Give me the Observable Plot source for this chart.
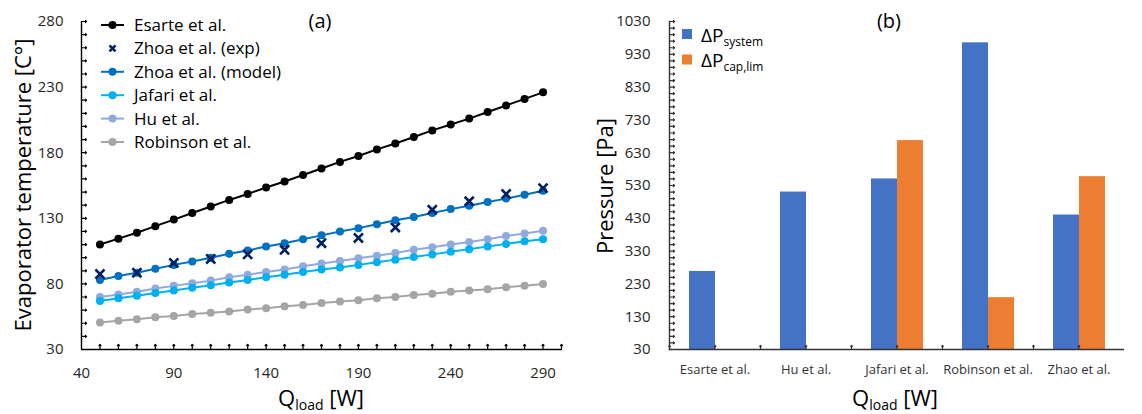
<!DOCTYPE html>
<html><head><meta charset="utf-8">
<script src="https://cdn.jsdelivr.net/npm/d3@7"></script>
<script src="https://cdn.jsdelivr.net/npm/@observablehq/plot@0.6"></script>
<style>
body{margin:0;background:#fff;font-family:"Open Sans",sans-serif;}
#root{position:relative;width:1142px;height:414px;overflow:hidden;background:#fff;}
#root > svg, #root > figure{position:absolute;top:0;margin:0;}
#overlay{position:absolute;left:0;top:0;pointer-events:none;}
</style></head><body><div id="root"></div><script>
// ---------- Panel (a) data ----------
const qLoad = [50,60,70,80,90,100,110,120,130,140,150,160,170,180,190,200,210,220,230,240,250,260,270,280,290];
const esarte   = [110,114.5,119,124,129,134,139,144,148.5,153.5,158,163,168,173,177.5,182.5,187,192,197,201.5,206,211,216,221,226];
const zhoaModel= [83,86,88.5,91.5,94.5,97,100,103,105.5,108.5,111,114,117,120,122.5,125.5,128.5,131,134,137,139.5,142.5,145,148,151];
const jafari   = [67,69,71,73,75,77,79,81,83,85,87,89,91,92.5,94.5,96.5,98.5,100.5,102.5,104.5,106.5,108.5,110.5,112.5,114];
const hu       = [70,72,74,76.5,78.5,80.5,82.5,85,87,89,91,93.5,95.5,97.5,99.5,101.5,103.5,106,108,110,112,114,116.5,118.5,120.5];
const robinson = [50.5,52,53,54.5,55.5,57,58,59,60.5,61.5,63,64,65.5,66.5,67.5,69,70,71.5,72.5,74,75,76,77.5,78.5,80];
const qExp     = [50,70,90,110,130,150,170,190,210,230,250,270,290];
const zhoaExp  = [87.5,88.5,96,99,102.5,106,111,115,123,136.5,143,148.5,153];
const xTickLabels = [40,90,140,190,240,290];
const xMinorTicks = [50,60,70,80,90,100,110,120,130,140,150,160,170,180,190,200,210,220,230,240,250,260,270,280,290,300];
const yTickLabels = [30,80,130,180,230,280];
const yMinorTicks = [40,50,60,70,80,90,100,110,120,130,140,150,160,170,180,190,200,210,220,230,240,250,260,270,280];

// ---------- Panel (b) data ----------
const studies  = ["Esarte et al.","Hu et al.","Jafari et al.","Robinson et al.","Zhao et al."];
const dpSystem = [268,510,550,965,440];
const dpCapLim = [null,null,667,188,557];
const pTickLabels = [30,130,230,330,430,530,630,730,830,930,1030];
const pMinorTicks = [50,70,90,110,130,150,170,190,210,230,250,270,290,310,330,350,370,390,410,430,450,470,490,510,530,550,570,590,610,630,650,670,690,710,730,750,770,790,810,830,850,870,890,910,930,950,970,990,1010,1030];

// ---------- styles ----------
const lineSeries = [
  {name:"Robinson et al.", values:robinson, color:"#A5A5A5"},
  {name:"Hu et al.", values:hu, color:"#8FAADC"},
  {name:"Jafari et al.", values:jafari, color:"#00B0F0"},
  {name:"Zhoa et al. (model)", values:zhoaModel, color:"#0070C0"},
  {name:"Esarte et al.", values:esarte, color:"#000000"}
];
const expColor = "#002060";
const barColors = ["#4472C4","#ED7D31"];
const FONT = "'Open Sans', sans-serif";

const root = document.getElementById("root");

// ---------- Panel (a) ----------
const marksA = [
  Plot.axisX({ticks:xTickLabels, tickSize:0, tickPadding:18, fontSize:15, fill:"#262626", tickFormat:d=>String(d)}),
  Plot.axisY({ticks:yTickLabels, tickSize:0, tickPadding:18, fontSize:15, fill:"#262626", tickFormat:d=>String(d)}),
  Plot.vector(xMinorTicks, {x:d=>d, frameAnchor:"bottom", length:5, rotate:0, anchor:"start", stroke:"#000", strokeWidth:1.2}),
  Plot.vector(yMinorTicks, {y:d=>d, frameAnchor:"left", length:5, rotate:90, anchor:"start", stroke:"#000", strokeWidth:1.2}),
  Plot.ruleX([40], {stroke:"#000", strokeWidth:1.4}),
  Plot.ruleY([30], {stroke:"#000", strokeWidth:1.4})
];
for (const s of lineSeries) {
  const rows = qLoad.map((q,i)=>({q, T:s.values[i]}));
  marksA.push(Plot.line(rows, {x:"q", y:"T", stroke:s.color, strokeWidth:2}));
  marksA.push(Plot.dot(rows, {x:"q", y:"T", fill:s.color, r:4}));
}
const expRows = qExp.map((q,i)=>({q, T:zhoaExp[i]}));
marksA.push(Plot.dot(expRows, {x:"q", y:"T", symbol:"times", stroke:expColor, strokeWidth:2.6, r:4.2}));

const plotA = Plot.plot({
  width:580, height:414,
  marginLeft:81, marginRight:19, marginTop:21, marginBottom:65,
  x:{domain:[40,300], label:null},
  y:{domain:[30,280], label:null},
  style:{fontFamily:FONT, fontSize:"15px", background:"transparent", overflow:"visible"},
  marks:marksA
});
plotA.style.left = "0px";
root.appendChild(plotA);

// ---------- Panel (b) ----------
const barRows = [];
studies.forEach((s,i)=>{
  barRows.push({study:s, kind:"system", v:dpSystem[i]});
  if (dpCapLim[i] != null) barRows.push({study:s, kind:"cap", v:dpCapLim[i]});
});
const plotB = Plot.plot({
  width:562, height:414,
  marginLeft:88, marginRight:17, marginTop:21, marginBottom:65,
  fx:{domain:studies, padding:0, label:null},
  x:{domain:["system","cap"], paddingInner:0, paddingOuter:0.71, axis:null, label:null},
  y:{domain:[30,1030], label:null},
  color:{domain:["system","cap"], range:barColors},
  style:{fontFamily:FONT, fontSize:"15px", background:"transparent", overflow:"visible"},
  marks:[
    Plot.barY(barRows, {fx:"study", x:"kind", y1:30, y2:"v", fill:"kind"}),
    Plot.axisFx({anchor:"bottom", tickSize:0, tickPadding:15, fontSize:13, fill:"#333", label:null}),
    Plot.axisY({ticks:pTickLabels, tickSize:0, tickPadding:19, fontSize:15, fill:"#262626", label:null, tickFormat:d=>String(d)}),
    Plot.vector(pMinorTicks, {y:d=>d, frameAnchor:"left", length:5, rotate:90, anchor:"start", stroke:"#333", strokeWidth:1.2, facetAnchor:"left"}),
    Plot.ruleY([30], {stroke:"#333", strokeWidth:1.4}),
    Plot.frame({anchor:"left", facetAnchor:"left", stroke:"#333", strokeWidth:1.4}),
    Plot.vector([0], {frameAnchor:"bottom-left", length:4, rotate:0, anchor:"start", stroke:"#333", strokeWidth:1.2}),
    Plot.vector([0], {frameAnchor:"bottom", length:4, rotate:0, anchor:"start", stroke:"#333", strokeWidth:1.2})
  ]
});
plotB.style.left = "580px";
root.appendChild(plotB);

// ---------- Overlay: titles & legends ----------
const ov = d3.select(root).append("svg").attr("id","overlay").attr("width",1142).attr("height",414)
  .style("font-family", FONT);

ov.append("text").attr("x",320).attr("y",28).attr("text-anchor","middle").attr("font-size",20).attr("fill","#000").text("(a)");
ov.append("text").attr("x",889).attr("y",28).attr("text-anchor","middle").attr("font-size",20).attr("fill","#000").text("(b)");

ov.append("text").attr("transform","translate(31,185) rotate(-90)").attr("text-anchor","middle")
  .attr("font-size",22).attr("fill","#000").text("Evaporator temperature [C°]");
ov.append("text").attr("transform","translate(613,186) rotate(-90)").attr("text-anchor","middle")
  .attr("font-size",22).attr("fill","#000").text("Pressure [Pa]");

for (const cx of [321, 895]) {
  const t = ov.append("text").attr("x",cx).attr("y",406).attr("text-anchor","middle").attr("fill","#000");
  t.append("tspan").text("Q").attr("font-size",22);
  t.append("tspan").text("load").attr("font-size",14).attr("dy",4);
  t.append("tspan").text(" [W]").attr("font-size",22).attr("dy",-4);
}

// legend (a)
const legendA = [
  {name:"Esarte et al.", color:"#000000", kind:"line"},
  {name:"Zhoa et al. (exp)", color:expColor, kind:"x"},
  {name:"Zhoa et al. (model)", color:"#0070C0", kind:"line"},
  {name:"Jafari et al.", color:"#00B0F0", kind:"line"},
  {name:"Hu et al.", color:"#8FAADC", kind:"line"},
  {name:"Robinson et al.", color:"#A5A5A5", kind:"line"}
];
legendA.forEach((d,i)=>{
  const y = 25 + i*23.4;
  if (d.kind === "line") {
    ov.append("line").attr("x1",101).attr("x2",124).attr("y1",y).attr("y2",y).attr("stroke",d.color).attr("stroke-width",2);
    ov.append("circle").attr("cx",112.5).attr("cy",y).attr("r",4).attr("fill",d.color);
  } else {
    ov.append("path").attr("d",`M${112.5-3},${y-3}L${112.5+3},${y+3}M${112.5-3},${y+3}L${112.5+3},${y-3}`)
      .attr("stroke",d.color).attr("stroke-width",2.6);
  }
  ov.append("text").attr("x",134).attr("y",y+6).attr("font-size",17).attr("fill","#000").text(d.name);
});

// legend (b)
const legendB = [{main:"ΔP", sub:"system", color:barColors[0]}, {main:"ΔP", sub:"cap,lim", color:barColors[1]}];
legendB.forEach((d,i)=>{
  const y = 34 + i*25.5;
  ov.append("rect").attr("x",682).attr("y",y-5).attr("width",10).attr("height",10).attr("fill",d.color);
  const t = ov.append("text").attr("x",701).attr("y",y+7.5).attr("fill","#000");
  t.append("tspan").text(d.main).attr("font-size",19);
  t.append("tspan").text(d.sub).attr("font-size",12).attr("dy",4);
});
</script></body></html>
